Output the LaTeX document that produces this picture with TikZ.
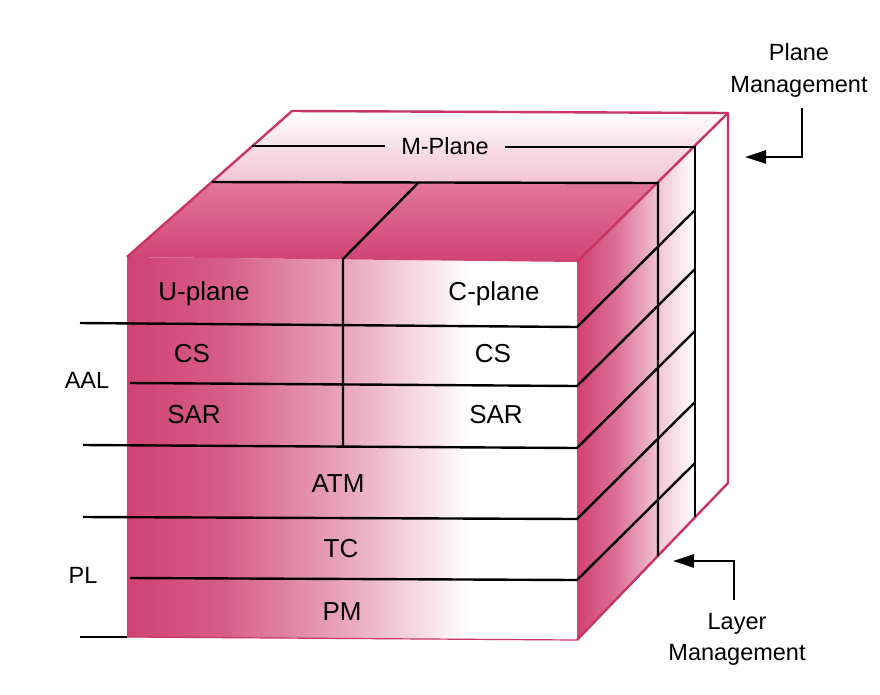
\documentclass[tikz,border=0pt]{standalone}
\usepackage{fontspec}
\setmainfont{Liberation Sans}
\usetikzlibrary{arrows.meta}
\definecolor{deep}{RGB}{208,66,116}
\definecolor{pinkmid}{RGB}{226,118,156}
\definecolor{pinklight}{RGB}{243,196,212}
\definecolor{edgepink}{RGB}{200,52,102}
\pgfdeclarehorizontalshading{frontsh}{100bp}{color(0bp)=(deep); color(25bp)=(deep); color(36bp)=(deep!85!white); color(50bp)=(deep!45!white); color(63bp)=(white); color(100bp)=(white)}
\pgfdeclarehorizontalshading{rightsh}{100bp}{color(0bp)=(deep); color(25bp)=(deep); color(50bp)=(deep!75!white); color(75bp)=(pinklight); color(100bp)=(pinklight)}
\begin{document}
\begin{tikzpicture}[x=1pt,y=-1pt,
  blk/.style={line width=2.4pt, black, line join=miter},
  pedge/.style={line width=2.4pt, edgepink, line join=round},
  inlab/.style={font=\fontsize{26}{30}\selectfont, inner sep=0pt, anchor=base},
  outlab/.style={font=\fontsize{23.5}{30}\selectfont, inner sep=0pt, anchor=base},
  mgarrow/.style={line width=2.4pt, -{Triangle[length=21pt,width=13pt]}}]
\useasboundingbox (0,0) rectangle (880,694);
\fill[white] (0,0) rectangle (880,694);
% cube corners
\coordinate (FTL) at (127,257);
\coordinate (FTR) at (577,262);
\coordinate (FBR) at (577,640);
\coordinate (FBL) at (127,637);
\coordinate (BTL) at (292,111);
\coordinate (BTR) at (728,113);
\coordinate (BBR) at (728,483);
% management slab boundaries
\coordinate (LTL) at (212,182);
\coordinate (LTR) at (658,183);
\coordinate (LBR) at (658,556);
\coordinate (MTL) at (252,146);
\coordinate (MTR) at (695,147);
\coordinate (MBR) at (695,517);
% fills
\shade[shading=frontsh] (FTL) -- (FTR) -- (FBR) -- (FBL) -- cycle;
\shade[top color=pinkmid, bottom color=deep] (FTL) -- (FTR) -- (LTR) -- (LTL) -- cycle;
\shade[top color=pinklight!55!white, bottom color=pinklight] (LTL) -- (LTR) -- (MTR) -- (MTL) -- cycle;
\shade[top color=white, bottom color=pinklight!55!white] (MTL) -- (MTR) -- (BTR) -- (BTL) -- cycle;
\shade[shading=rightsh] (FTR) -- (LTR) -- (LBR) -- (FBR) -- cycle;
\shade[left color=pinklight, right color=white] (LTR) -- (MTR) -- (MBR) -- (LBR) -- cycle;
\fill[white] (MTR) -- (BTR) -- (BBR) -- (MBR) -- cycle;
% pink outer edges
\draw[pedge] (FTL) -- (BTL) -- (BTR) -- (BBR) -- (FBR);
\draw[pedge] (FTR) -- (BTR);
\draw[edgepink, line width=1.2pt] (FBL) -- (FBR);
% labels
\node[inlab] (up) at (204,300) {U-plane};
\node[inlab] (cp) at (494,300) {C-plane};
\node[inlab] (csl) at (192,362) {CS};
\node[inlab] (csr) at (493,362) {CS};
\node[inlab] (sarl) at (194,423) {SAR};
\node[inlab] (sarr) at (496,423) {SAR};
\node[inlab] (atm) at (338,492) {ATM};
\node[inlab] (tc) at (341,557) {TC};
\node[inlab] (pm) at (342,620) {PM};
\node[outlab] (aal) at (87,388) {AAL};
\node[outlab] (pl) at (83,583) {PL};
\node[outlab, inner xsep=16pt] (mp) at (445,154) {M-Plane};
\node[outlab] (pmg1) at (799,60) {Plane};
\node[outlab] (pmg2) at (799,92) {Management};
\node[outlab] (lmg1) at (737,629) {Layer};
\node[outlab] (lmg2) at (737,660) {Management};
% management slab lines
\draw[blk] (MTL) -- (MTL -| mp.west);
\draw[blk] (mp.east |- MTR) -- (MTR) -- (MBR);
\draw[blk] (LTL) -- (LTR) -- (LBR);
% U/C divider
\coordinate (D1) at (418,183);
\coordinate (D2) at (343,259);
\coordinate (D3) at (343,447);
\draw[blk] (D1) -- (D2) -- (D3);
% layer rows
\foreach \xl/\yl/\yr in {80/323/327, 130/383/386, 83/445/448, 83/517/519, 130/578/580}{
  \draw[blk] (\xl,\yl) -- (577,\yr) -- (695,\yr-117);
}
\draw[blk] (80,637) -- (FBL);
% management arrows
\coordinate (pma) at (802,108);
\coordinate (pmt) at (745,157);
\coordinate (lma) at (734,600);
\coordinate (lmt) at (673,561);
\draw[mgarrow] (pma) |- (pmt);
\draw[mgarrow] (lma) |- (lmt);
\end{tikzpicture}
\end{document}
